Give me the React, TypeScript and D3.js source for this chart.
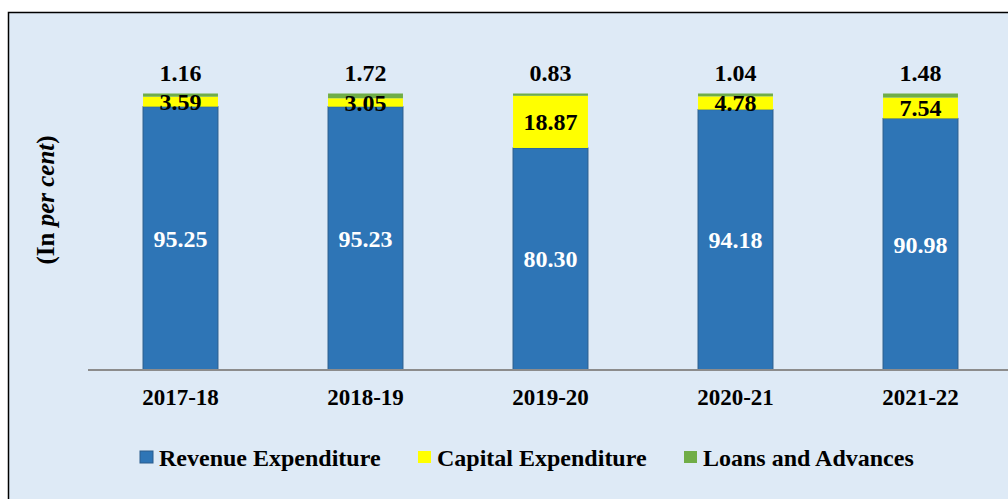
import React from "react";
import * as d3 from "d3";

const categories = ["2017-18", "2018-19", "2019-20", "2020-21", "2021-22"];
const revenue = [95.25, 95.23, 80.3, 94.18, 90.98];
const capital = [3.59, 3.05, 18.87, 4.78, 7.54];
const loans = [1.16, 1.72, 0.83, 1.04, 1.48];
const seriesNames = ["Revenue Expenditure", "Capital Expenditure", "Loans and Advances"];
const colors = ["#2E75B6", "#FFFF00", "#70AD47"];

const W = 1008, H = 499;
const FONT = "'Liberation Serif', 'Times New Roman', serif";

export default function App() {
  const x = d3.scaleBand<string>().domain(categories).range([88, 1013]).paddingInner(0.595).paddingOuter(0.2975);
  const y = d3.scaleLinear().domain([0, 100]).range([370, 93.5]);
  const rows = categories.map((c, i) => ({ cat: c, rev: revenue[i], cap: capital[i], loan: loans[i] }));
  const stack = d3.stack<any>().keys(["rev", "cap", "loan"])(rows);
  const fmt = d3.format(".2f");
  const legendX = [140, 418, 684];

  return (
    <svg width={W} height={H} style={{ position: "absolute", left: 0, top: 0 }}>
      <rect x={0} y={0} width={W} height={H} fill="#ffffff" />
      <rect x={8.5} y={12.5} width={W + 10} height={H} fill="#DEEAF6" stroke="#000" strokeWidth={1.5} />
      {stack.map((s, si) =>
        s.map((d, i) => {
          const x0 = x(categories[i])!;
          return (
            <rect key={`${si}-${i}`} x={x0} y={y(d[1])} width={x.bandwidth()} height={y(d[0]) - y(d[1])}
              fill={colors[si]} stroke={si === 0 ? "#2A5C8C" : "none"} strokeWidth={si === 0 ? 1 : 0} />
          );
        })
      )}
      <line x1={88} x2={W} y1={370} y2={370} stroke="#8C8C8C" strokeWidth={2} />
      {rows.map((r, i) => {
        const cx = x(r.cat)! + x.bandwidth() / 2;
        const s0 = stack[0][i], s1 = stack[1][i], s2 = stack[2][i];
        return (
          <g key={r.cat} fontFamily={FONT} fontWeight="bold" textAnchor="middle">
            <text x={cx} y={(y(s0[0]) + y(s0[1])) / 2} dy="0.35em" fontSize={24} fill="#fff">{fmt(r.rev)}</text>
            <text x={cx} y={(y(s1[0]) + y(s1[1])) / 2} dy="0.35em" fontSize={24} fill="#000">{fmt(r.cap)}</text>
            <text x={cx} y={y(s2[1]) - 21} dy="0.35em" fontSize={24} fill="#000">{fmt(r.loan)}</text>
            <text x={cx} y={397} dy="0.35em" fontSize={23} fill="#000">{r.cat}</text>
          </g>
        );
      })}
      <text transform="translate(45,200) rotate(-90)" textAnchor="middle" dy="0.35em" fontFamily={FONT} fontWeight="bold" fontSize={25}>
        (In <tspan fontStyle="italic">per cent</tspan>)
      </text>
      {seriesNames.map((n, i) => (
        <g key={n}>
          <rect x={legendX[i]} y={451} width={13} height={12} fill={colors[i]} stroke={i === 0 ? "#2A5C8C" : "none"} strokeWidth={1} />
          <text x={legendX[i] + 19} y={458} dy="0.35em" fontFamily={FONT} fontWeight="bold" fontSize={24}>{n}</text>
        </g>
      ))}
    </svg>
  );
}
